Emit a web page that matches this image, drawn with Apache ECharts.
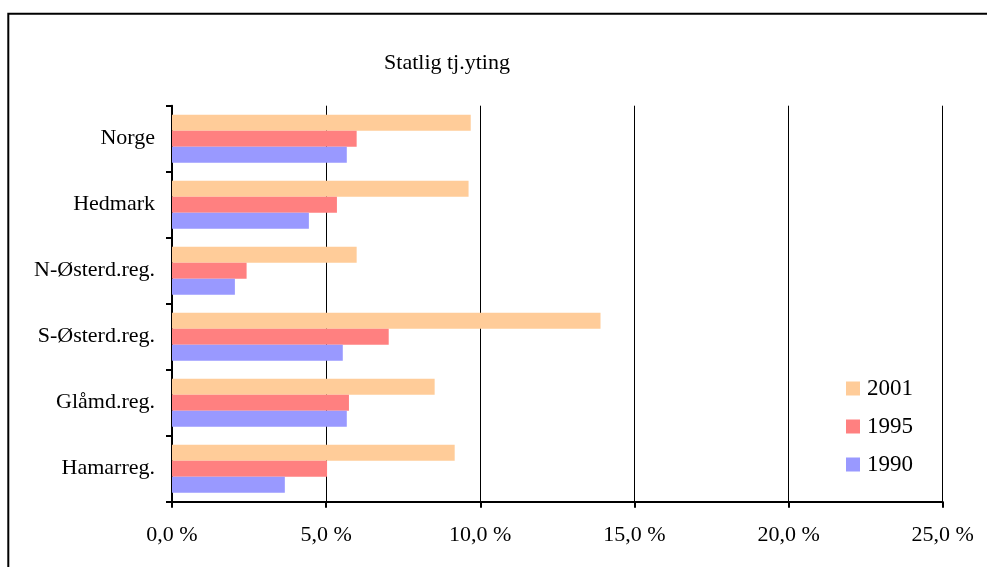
<!DOCTYPE html>
<html>
<head>
<meta charset="utf-8">
<script src="https://cdn.jsdelivr.net/npm/echarts@6/dist/echarts.min.js"></script>
<style>
html,body{margin:0;padding:0;background:#fff;}
#chart{width:987px;height:567px;}
</style>
</head>
<body>
<div id="chart"></div>
<script>
var categories = ['Norge', 'Hedmark', 'N-Østerd.reg.', 'S-Østerd.reg.', 'Glåmd.reg.', 'Hamarreg.'];
var seriesNames = ['2001', '1995', '1990'];
var values2001 = [9.69, 9.62, 5.99, 13.9, 8.52, 9.17];
var values1995 = [5.99, 5.35, 2.42, 7.03, 5.74, 5.03];
var values1990 = [5.67, 4.44, 2.04, 5.54, 5.67, 3.66];
var xTicks = [0, 5, 10, 15, 20, 25];
var colors = ['#FFCC99', '#FF8080', '#9999FF'];

var font = '"Liberation Serif", "Times New Roman", serif';
var chart = echarts.init(document.getElementById('chart'), null, {renderer: 'canvas'});
var seriesData = [values2001, values1995, values1990];

chart.setOption({
  animation: false,
  backgroundColor: '#ffffff',
  textStyle: {fontFamily: font, color: '#000'},
  title: {
    text: 'Statlig tj.yting',
    left: 442, top: 47, textAlign: 'center',
    textStyle: {fontFamily: font, fontSize: 22, fontWeight: 'normal', color: '#000'}
  },
  graphic: [{
    type: 'rect',
    shape: {x: 8.3, y: 13.7, width: 1100, height: 700},
    style: {fill: 'none', stroke: '#000', lineWidth: 2},
    silent: true
  }],
  legend: {
    orient: 'vertical',
    left: 841, top: 372,
    itemWidth: 14, itemHeight: 14, itemGap: 15,
    icon: 'rect',
    data: seriesNames,
    textStyle: {fontFamily: font, fontSize: 23, color: '#000', padding: [0,0,0,2]}
  },
  grid: {left: 172, right: 44.3, top: 105.7, bottom: 65.3, containLabel: false},
  xAxis: {
    type: 'value', min: xTicks[0], max: xTicks[xTicks.length-1], interval: 5,
    axisLine: {show: true, lineStyle: {color: '#000', width: 2}},
    axisTick: {show: true, length: 6, lineStyle: {color: '#000', width: 2}},
    splitLine: {show: true, lineStyle: {color: '#000', width: 1}},
    axisLabel: {
      fontFamily: font, fontSize: 22, color: '#000', margin: 23,
      formatter: function (v) { return v.toFixed(1).replace('.', ',') + ' %'; }
    }
  },
  yAxis: {
    type: 'category', data: categories, inverse: true,
    axisLine: {show: true, lineStyle: {color: '#000', width: 2}},
    axisTick: {show: true, length: 6, lineStyle: {color: '#000', width: 2}},
    axisLabel: {fontFamily: font, fontSize: 22, color: '#000', margin: 17}
  },
  series: seriesNames.map(function (n, i) {
    return {
      name: n, type: 'bar', data: seriesData[i],
      barWidth: 16, barGap: '0%',
      itemStyle: {color: colors[i]}
    };
  })
});
</script>
</body>
</html>
